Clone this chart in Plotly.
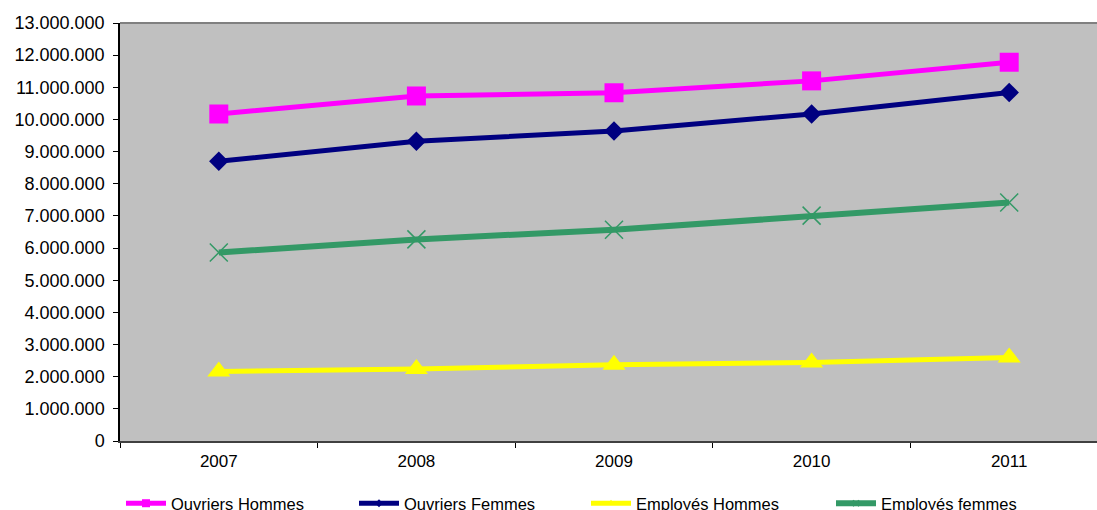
import plotly.graph_objects as go

years = ["2007", "2008", "2009", "2010", "2011"]
ouvriers_hommes = [10170000, 10730000, 10830000, 11200000, 11780000]
ouvriers_femmes = [8700000, 9320000, 9640000, 10170000, 10840000]
employes_hommes = [2160000, 2240000, 2370000, 2440000, 2600000]
employes_femmes = [5860000, 6270000, 6570000, 7010000, 7420000]
y_ticks = list(range(0, 13000001, 1000000))

W, H = 1097, 510
L, T, B, R = 120, 23, 69, 0
pw = W - L - R

def px2paper(px):
    return (px - L) / pw

series = [
    ("Ouvriers Hommes", ouvriers_hommes, "#FF00FF", "square", 19, 5, "legend", 121, 8),
    ("Ouvriers Femmes", ouvriers_femmes, "#000080", "diamond", 15, 5, "legend2", 354, 6),
    ("Employés Hommes", employes_hommes, "#FFFF00", "triangle-up", 20, 5, "legend3", 586, 7),
    ("Employés femmes", employes_femmes, "#339966", "x-thin", 18, 6, "legend4", 831, 6),
]

fig = go.Figure()
for name, vals, color, sym, msize, lw, leg, lx, lsize in series:
    marker = dict(symbol=sym, size=msize, color=color)
    if sym == "x-thin":
        marker["line"] = dict(color=color, width=1.5)
    fig.add_trace(go.Scatter(
        x=years, y=vals, name=name, mode="lines+markers",
        line=dict(color=color, width=lw), marker=marker, showlegend=False,
    ))
    # legend entry with the small legend-sized marker
    lmarker = dict(symbol=sym, size=lsize, color=color)
    if sym == "x-thin":
        lmarker["line"] = dict(color=color, width=1.5)
    fig.add_trace(go.Scatter(
        x=[None], y=[None], name=name, mode="lines+markers",
        line=dict(color=color, width=lw), marker=lmarker, legend=leg,
        showlegend=True, hoverinfo="skip",
    ))

layout_legends = {}
for name, vals, color, sym, msize, lw, leg, lx, lsize in series:
    layout_legends[leg] = dict(
        x=px2paper(lx), y=-(486 - 441) / (H - T - B), xanchor="left", yanchor="top",
        orientation="h", bgcolor="rgba(0,0,0,0)", borderwidth=0,
        font=dict(family="Liberation Sans, Arial", size=16.5, color="black"),
        itemsizing="trace", itemwidth=40,
    )

fig.update_layout(
    width=W, height=H,
    margin=dict(l=L, r=R, t=T, b=B, pad=0, autoexpand=False),
    paper_bgcolor="white", plot_bgcolor="#C0C0C0",
    separators=",.",
    font=dict(family="Liberation Sans, Arial", size=16, color="black"),
    showlegend=True,
    **layout_legends,
    shapes=[dict(type="line", xref="paper", yref="paper", x0=0, x1=1, y0=1, y1=1,
                 line=dict(color="#808080", width=2))],
)
fig.update_xaxes(
    type="category", categoryarray=years, categoryorder="array",
    range=[-0.5, -0.5 + pw / 197.6], automargin=False,
    tickson="boundaries", ticks="outside", ticklen=5, tickcolor="black",
    ticklabelstandoff=4,
    showline=True, linecolor="#404040", linewidth=2, showgrid=False, zeroline=False,
    tickfont=dict(size=17, family="Liberation Sans, Arial", color="black"),
)
fig.update_yaxes(
    range=[0, 13000000], tickvals=y_ticks, tickformat=",.0f", automargin=False,
    ticks="outside", ticklen=5, tickcolor="black",
    ticklabelstandoff=5,
    showline=True, linecolor="black", linewidth=1.5, showgrid=False, zeroline=False,
    tickfont=dict(size=18, family="Liberation Sans, Arial", color="black"),
)
fig.write_html(
    "out.html",
    config={"displayModeBar": False},
    post_script="document.body.style.margin='0';document.body.style.overflow='hidden';",
)
